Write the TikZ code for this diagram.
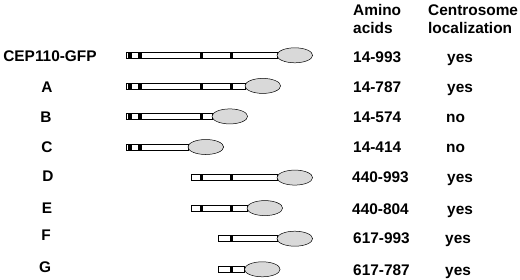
\documentclass[tikz,border=0pt]{standalone}
\usepackage{fontspec}
\setmainfont{Liberation Sans}
\usetikzlibrary{shapes.geometric}
\tikzset{
  txt/.style={inner sep=0pt, font=\fontsize{15.4}{17}\selectfont\bfseries},
  barbox/.style={draw=black, line width=0.6pt, fill=white},
  band/.style={fill=black},
  gfp/.style={ellipse, draw=black, line width=0.5pt, fill=gray!30, inner sep=0pt, minimum width=35.6pt, minimum height=15pt}
}
% \constr{name}{y}{x0}{x1}{bands}
\newcommand{\constr}[5]{%
  \draw[barbox] (#3,#2-3) rectangle (#4,#2+3);
  \foreach \a/\b in {#5} {\fill[band] (\a,#2-3) rectangle (\b,#2+3);}
  \draw[line width=0.6pt] (#3,#2-3) rectangle (#4,#2+3);
  \node[gfp] (g#1) at (#4+17.8,#2) {};
}
\begin{document}
\begin{tikzpicture}[x=1pt,y=-1pt]
\useasboundingbox (0,0) rectangle (520,279);
% headers
\node[txt, anchor=base west] (h1) at (353,15.5) {Amino};
\node[txt, anchor=base west] (h2) at (353,33) {acids};
\node[txt, anchor=base west] (h3) at (428,15.5) {Centrosome};
\node[txt, anchor=base west] (h4) at (428,33) {localization};
% constructs
\constr{full}{55.3}{126.7}{277}{128.3/131.7,138.3/142.3,200/203.3,229.5/233}
\constr{A}{85.9}{126.7}{245}{128.3/131.7,138.3/142.3,200/203.3,229.5/233}
\constr{B}{116.4}{126.7}{212}{128.3/131.7,138.3/142.3,200/203.3}
\constr{C}{147}{126.7}{188}{128.3/131.7,138.3/142.3}
\constr{D}{177.6}{191}{277}{200/203.3,229.5/233}
\constr{E}{208.1}{191}{247}{200/203.3,229.5/233}
\constr{F}{238.7}{218.3}{277}{229.5/233}
\constr{G}{269.3}{218.3}{244.5}{229.5/233}
% labels
\node[txt, anchor=base] (lfull) at (50,61.6) {CEP110-GFP};
\node[txt, anchor=base] (lA) at (47,92.2) {A};
\node[txt, anchor=base] (lB) at (46,122.7) {B};
\node[txt, anchor=base] (lC) at (47,152.5) {C};
\node[txt, anchor=base] (lD) at (48,181.5) {D};
\node[txt, anchor=base] (lE) at (47,213) {E};
\node[txt, anchor=base] (lF) at (46,240.5) {F};
\node[txt, anchor=base] (lG) at (45,272) {G};
% amino acids
\node[txt, anchor=base west] (nfull) at (353,62) {14-993};
\node[txt, anchor=base west] (nA) at (353,92.3) {14-787};
\node[txt, anchor=base west] (nB) at (353,122.8) {14-574};
\node[txt, anchor=base west] (nC) at (353,152.5) {14-414};
\node[txt, anchor=base west] (nD) at (352,182.5) {440-993};
\node[txt, anchor=base west] (nE) at (352,214) {440-804};
\node[txt, anchor=base west] (nF) at (353,243.5) {617-993};
\node[txt, anchor=base west] (nG) at (353,275) {617-787};
% localization
\node[txt, anchor=base west] (yfull) at (447,62) {yes};
\node[txt, anchor=base west] (yA) at (447,92.3) {yes};
\node[txt, anchor=base west] (yB) at (446,122.8) {no};
\node[txt, anchor=base west] (yC) at (446,152.5) {no};
\node[txt, anchor=base west] (yD) at (447,182.5) {yes};
\node[txt, anchor=base west] (yE) at (447,214) {yes};
\node[txt, anchor=base west] (yF) at (445,243.5) {yes};
\node[txt, anchor=base west] (yG) at (445,275) {yes};
\end{tikzpicture}
\end{document}
